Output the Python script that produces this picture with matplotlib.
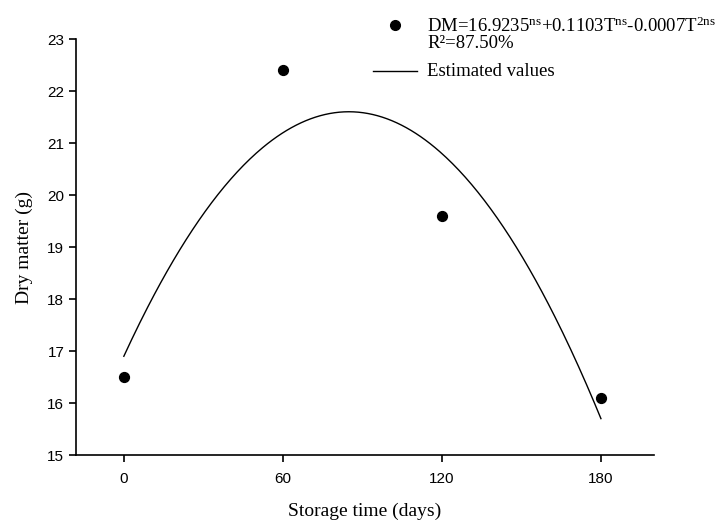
import numpy as np
import matplotlib
matplotlib.use("Agg")
import matplotlib.pyplot as plt
from matplotlib.lines import Line2D

plt.rcParams["mathtext.fontset"] = "custom"
plt.rcParams["mathtext.rm"] = "Liberation Serif"
plt.rcParams["mathtext.it"] = "Liberation Serif:italic"

# data
days = [0, 60, 120, 180]
dry_matter = [16.5, 22.4, 19.6, 16.1]
x_ticks = [0, 60, 120, 180]
y_ticks = [15, 16, 17, 18, 19, 20, 21, 22, 23]
eq_label = r"DM=16.9235$^{\rm ns}$+0.1103T$^{\rm ns}$-0.0007T$^{\rm 2ns}$"
r2_label = "R²=87.50%"
line_label = "Estimated values"

# quadratic fit -> estimated values curve
coef = np.polyfit(days, dry_matter, 2)
t = np.linspace(min(days), max(days), 300)
est = np.polyval(coef, t)

fig = plt.figure(figsize=(7.25, 5.23), dpi=100)
ax = fig.add_axes([0.105, 0.130, 0.797, 0.795])

ax.plot(t, est, color="black", lw=1.0)
ax.scatter(days, dry_matter, s=50, color="black", zorder=3)

ax.set_xlim(-18, 200)
ax.set_ylim(15, 23)
ax.set_xticks(x_ticks)
ax.set_yticks(y_ticks)
for s in ["top", "right"]:
    ax.spines[s].set_visible(False)
for s in ["left", "bottom"]:
    ax.spines[s].set_linewidth(1.2)
ax.tick_params(direction="out", length=5, width=1.2, labelsize=11)
ax.tick_params(axis="x", pad=7)
for lab in ax.get_xticklabels() + ax.get_yticklabels():
    lab.set_family("Liberation Sans")

ax.set_xlabel("Storage time (days)", family="Liberation Serif", fontsize=14)
ax.set_ylabel("Dry matter (g)", family="Liberation Serif", fontsize=14)
ax.xaxis.set_label_coords(0.5, -0.115)
ax.yaxis.set_label_coords(-0.074, 0.5)

# legend, drawn by hand to mimic the SigmaPlot layout
W, H = 725, 523
fig.add_artist(Line2D([395 / W], [1 - 25 / H], marker="o", markersize=7,
                      color="black", linestyle="none"))
fig.text(427 / W, 1 - 26 / H, eq_label, family="Liberation Serif", fontsize=13.5,
         va="center", ha="left")
fig.text(427 / W, 1 - 44 / H, r2_label, family="Liberation Serif", fontsize=13.5,
         va="center", ha="left")
fig.add_artist(Line2D([373 / W, 417 / W], [1 - 71 / H, 1 - 71 / H],
                      color="black", lw=1.0))
fig.text(427 / W, 1 - 72 / H, line_label, family="Liberation Serif", fontsize=13.5,
         va="center", ha="left")

fig.savefig("out.png", dpi=100)
